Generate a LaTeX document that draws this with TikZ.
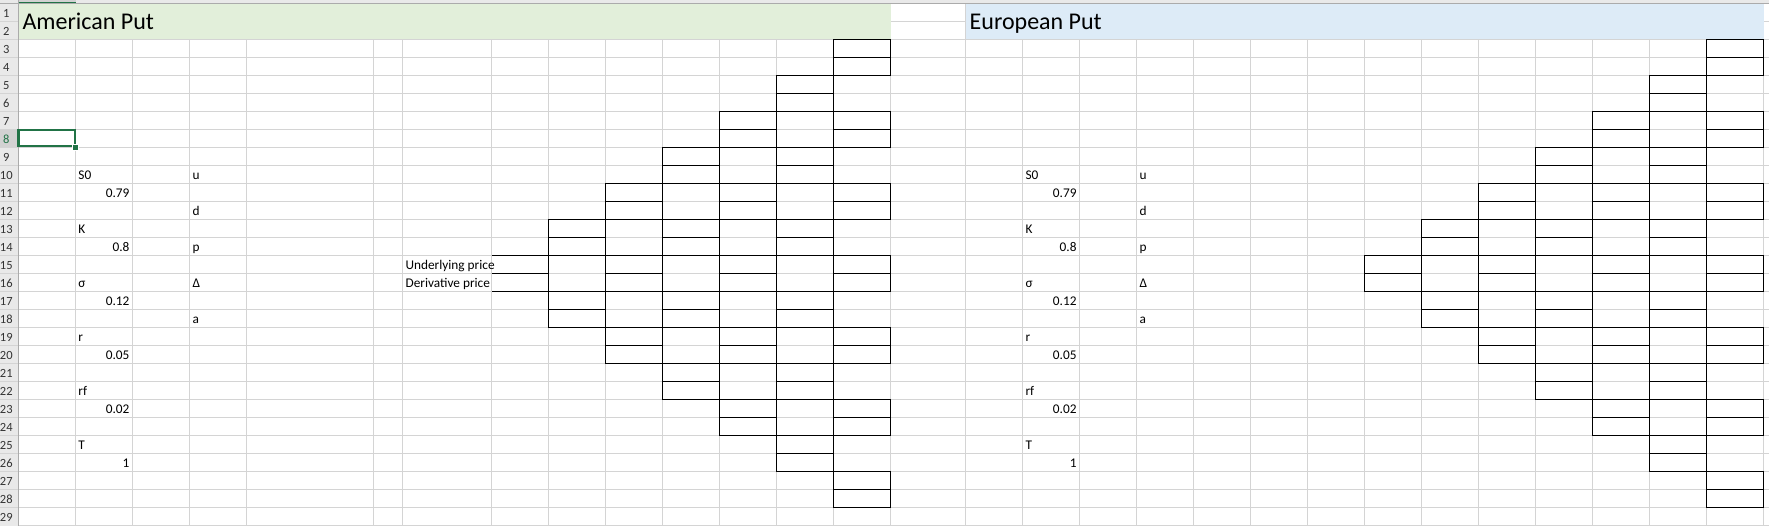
\documentclass[tikz,border=0pt]{standalone}
\usepackage{fontspec}
\setmainfont{Carlito}
\definecolor{gridgray}{HTML}{D4D4D4}
\definecolor{hdrgray}{HTML}{E9E9E9}
\definecolor{hdrsel}{HTML}{D2D2D2}
\definecolor{hdrline}{HTML}{ABABAB}
\definecolor{amgreen}{HTML}{E2EFDA}
\definecolor{eublue}{HTML}{DDEBF7}
\definecolor{selgreen}{HTML}{217346}
\tikzset{
  cell/.style={font=\fontsize{13.3}{13.3}\selectfont, inner sep=0pt},
  celll/.style={cell, anchor=base west},
  cellr/.style={cell, anchor=base east},
  sheettitle/.style={font=\fontsize{24}{24}\selectfont, inner sep=0pt, anchor=base west},
  rownum/.style={font=\fontsize{12.5}{12.5}\selectfont, inner sep=0pt, anchor=base},
  gridline/.style={draw=gridgray, line width=0.9pt},
  box/.style={draw=black, line width=1.3pt}
}
\begin{document}
\begin{tikzpicture}[x=1pt, y=-1pt]
\useasboundingbox (0,0) rectangle (1769,526);
\fill[white] (0,0) rectangle (1769,526);
\foreach \r in {0,...,29}
{
  \draw[gridline] (0,3.3+18*\r) -- (1769,3.3+18*\r);
}
\foreach \x in {18.5, 75.5, 132.5, 189.5, 246.5, 373.7, 402.7}
{
  \draw[gridline] (\x,3.3) -- (\x,526);
}
\foreach \k in {0,...,7}
{
  \draw[gridline] (491.7+57*\k,3.3) -- (491.7+57*\k,526);
}
\foreach \k in {0,...,14}
{
  \draw[gridline] (965.6+57*\k,3.3) -- (965.6+57*\k,526);
}
\fill[amgreen] (18.5,3.3) rectangle (890.7,39.3);
\fill[eublue] (965.6,3.3) rectangle (1763.6,39.3);
\fill[hdrgray] (0,0) rectangle (1769,3.3);
\fill[hdrgray] (0,3.3) rectangle (18.5,526);
\fill[hdrsel] (18.5,0) rectangle (75.5,3.3);
\fill[hdrsel] (0,129.3) rectangle (18.5,147.3);
\foreach \r in {1,...,28}
{
  \draw[gridline] (0,3.3+18*\r) -- (18.5,3.3+18*\r);
}
\draw[hdrline] (0,3.3) -- (1769,3.3);
\draw[hdrline] (18.5,0) -- (18.5,526);
\draw[selgreen, line width=1.6pt] (18.5,2.4) -- (75.5,2.4);
\draw[selgreen, line width=1.2pt] (17.9,129.3) -- (17.9,147.3);
\foreach \r in {1,...,29}
{
  \ifnum\r=8 \def\rc{selgreen}\else\def\rc{black!80}\fi
  \node[rownum, text=\rc] (row-\r) at (6.3,18*\r-0.7) {\r};
}
\draw[selgreen, line width=2pt] (19.3,130.2) rectangle (74.7,146.4);
\filldraw[fill=selgreen, draw=white, line width=0.8pt] (72.6,144.6) rectangle (78.2,150.2);
\node[sheettitle] (am-title) at (22.3,29.3) {American Put};
\node[sheettitle] (eu-title) at (969.5,29.3) {European Put};
\foreach \dx/\pn in {0/am, 947.1/eu}
{
  \foreach \lab/\r in {S0/10, K/13, σ/16, r/19, rf/22, T/25}
  {
    \node[celll] (\pn-lab-\r) at (78.2+\dx,18*\r-0.7) {\lab};
  }
  \foreach \val/\r in {0.79/11, 0.8/14, 0.12/17, 0.05/20, 0.02/23, 1/26}
  {
    \node[cellr] (\pn-val-\r) at (129.6+\dx,18*\r-0.7) {\val};
  }
  \foreach \lab/\r in {u/10, d/12, p/14, Δ/16, a/18}
  {
    \node[celll] (\pn-par-\r) at (192.3+\dx,18*\r-0.7) {\lab};
  }
}
\node[celll] (under) at (405.4,269.3) {Underlying price};
\node[celll] (deriv) at (405.4,287.3) {Derivative price};
\foreach \xa/\ts in {491.7/1, 1364.6/0}
{
  \foreach \t in {\ts,...,6}
  {
    \foreach \j in {0,...,\t}
    {
      \pgfmathsetmacro{\bx}{\xa+57*\t}
      \pgfmathsetmacro{\by}{3.3+18*(14-2*\t+4*\j)}
      \draw[box] (\bx,\by) rectangle ++(57,36);
      \draw[box] (\bx,\by+18) -- ++(57,0);
    }
  }
}
\draw[box] (491.7,255.3) -- (548.7,255.3) -- (548.7,291.3) -- (491.7,291.3);
\draw[box] (491.7,273.3) -- (548.7,273.3);
\end{tikzpicture}
\end{document}
